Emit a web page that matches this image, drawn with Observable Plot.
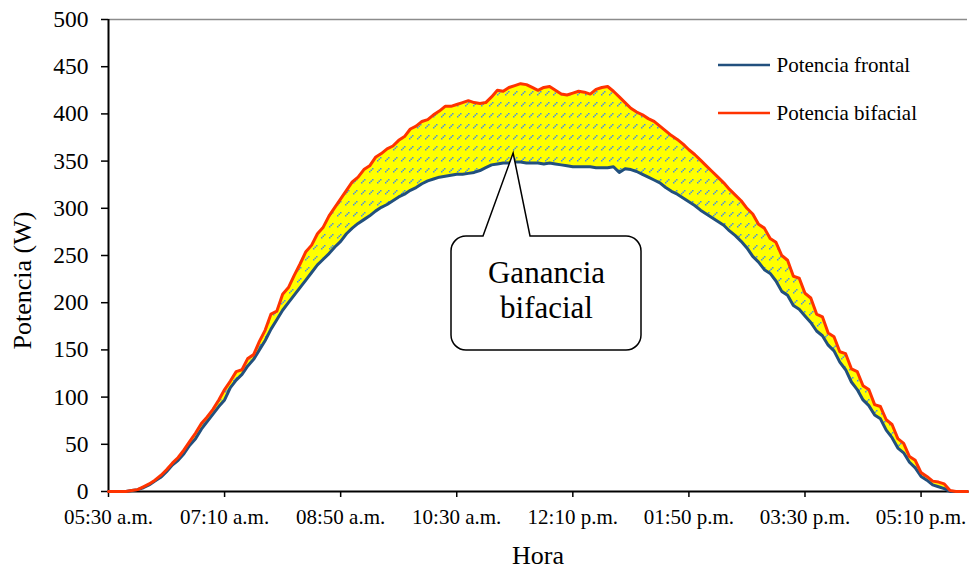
<!DOCTYPE html>
<html><head><meta charset="utf-8">
<script src="https://cdn.jsdelivr.net/npm/d3@7"></script>
<script src="https://cdn.jsdelivr.net/npm/@observablehq/plot@0.6"></script>
<style>
body{margin:0;background:#fff;}
#chart{position:relative;width:969px;height:569px;}
</style></head><body><div id="chart"></div>
<script>
// 5-minute samples starting at 05:30 a.m.
const stepMinutes = 5;
const frontal = [
0,0,0,0,1,2,4,7,11,15,21,28,33,40,49,56,66,74,82,90,
97,110,118,124,133,140,150,160,172,182,192,200,208,216,224,232,240,246,252,259,
265,273,279,284,288,292,297,301,304,308,312,315,319,322,326,329,331,333,334,335,
336,336,337,338,340,343,346,347,348,348,349,349,348,348,348,347,348,347,346,345,
344,344,344,344,343,343,343,344,338,342,341,339,336,333,330,327,322,318,315,311,
307,303,298,294,290,286,282,276,271,265,258,249,243,235,231,223,212,208,197,193,
186,179,170,165,155,149,137,129,116,108,97,91,81,77,65,57,46,41,31,25,
16,12,7,5,3,0,0,0,0
];
const bifacial = [
0,0,0,0,1,2,5,8,12,17,23,30,36,44,53,62,72,79,87,97,
108,117,127,129,141,145,159,171,188,191,209,216,229,241,254,261,273,280,292,301,
310,319,328,333,341,345,354,358,363,366,372,376,384,387,392,394,399,403,408,408,
410,412,414,412,411,412,418,425,424,428,430,432,431,428,425,428,429,425,421,420,
422,424,423,421,426,428,429,424,418,412,406,402,399,395,392,387,382,377,373,368,
362,357,351,345,339,333,327,320,314,308,300,294,283,279,268,264,250,245,228,226,
210,205,188,185,168,164,148,146,130,127,112,108,92,90,76,71,56,51,37,33,
20,16,11,10,8,1,0,0,0
];
const tickMinutes = [0,100,200,300,400,500,600,700];
const tickLabels = ["05:30 a.m.","07:10 a.m.","08:50 a.m.","10:30 a.m.","12:10 p.m.","01:50 p.m.","03:30 p.m.","05:10 p.m."];
const yTicks = [0,50,100,150,200,250,300,350,400,450,500];
const seriesNames = ["Potencia frontal","Potencia bifacial"];
const seriesColors = ["#22507E","#FF3300"];
const calloutText = "Ganancia\nbifacial";
const calloutPoint = {t:349, p:358};
const xTitle = "Hora";
const yTitle = "Potencia (W)";

const data = frontal.map((f,i)=>({t:i*stepMinutes, frontal:f, bifacial:bifacial[i]}));
const fmt = d => tickLabels[tickMinutes.indexOf(d)];
const font = "Liberation Serif";

const plot = Plot.plot({
  width:969, height:569,
  marginLeft:108, marginRight:2, marginTop:19, marginBottom:78,
  style:{fontFamily:font, background:"#fff", color:"#000", overflow:"visible"},
  x:{domain:[0,740]},
  y:{domain:[0,500]},
  marks:[
    Plot.areaY(data,{x:"t", y1:"frontal", y2:"bifacial", fill:"#FFFF00"}),
    Plot.areaY(data,{x:"t", y1:"frontal", y2:"bifacial", fill:"url(#hatch)"}),
    Plot.ruleY([500],{stroke:"#8c8c8c", strokeWidth:1.5}),
    Plot.axisX({ticks:tickMinutes, tickFormat:fmt, tickSize:6, tickPadding:12, fontSize:21, label:null, strokeWidth:1.5}),
    Plot.axisY({ticks:yTicks, tickSize:7, tickPadding:13, fontSize:23.5, label:null, strokeWidth:1.5}),
    Plot.ruleX([0],{stroke:"#000", strokeWidth:2}),
    Plot.ruleY([0],{stroke:"#000", strokeWidth:2}),
    Plot.line(data,{x:"t", y:"frontal", stroke:seriesColors[0], strokeWidth:3}),
    Plot.line(data,{x:"t", y:"bifacial", stroke:seriesColors[1], strokeWidth:3}),
    Plot.text([xTitle],{frameAnchor:"bottom", lineAnchor:"bottom", dy:72, fontSize:26, fill:"#000", fontFamily:font}),
    Plot.text([yTitle],{frameAnchor:"left", textAnchor:"middle", dx:-86, dy:25, rotate:-90, fontSize:26, fill:"#000", fontFamily:font}),
    Plot.text([calloutText],{frameAnchor:"top-left", textAnchor:"middle", lineAnchor:"top", dx:546-108, dy:258-19, fontSize:31, lineHeight:1.13, fill:"#000", fontFamily:font}),
    Plot.text(seriesNames,{frameAnchor:"top-left", textAnchor:"start", lineAnchor:"middle", fontSize:21, fill:"#000", fontFamily:font, className:"legend-text"})
  ]
});

const svg = d3.select(plot);
const defs = svg.insert("defs",":first-child");
const pat = defs.append("pattern").attr("id","hatch").attr("patternUnits","userSpaceOnUse")
  .attr("width",8).attr("height",11);
[[1,6],[2.5,4.5],[4,3]].forEach(([x,y])=>{
  pat.append("rect").attr("x",x).attr("y",y).attr("width",1.5).attr("height",1.5).attr("fill","#4A8FE0");
});

// legend text positions (one row per series)
svg.selectAll("g.legend-text text").attr("transform",(d,i)=>`translate(776,${65 + i*48})`);

// callout box and legend swatches, drawn beneath the text marks
const sx = plot.scale("x"), sy = plot.scale("y");
const tx = sx.apply(calloutPoint.t), ty = sy.apply(calloutPoint.p);
const L=451, R=641, T=236, B=350, r=15;
const path = `M${L+r},${T} L483,${T} L${tx},${ty} L530,${T} L${R-r},${T} A${r},${r} 0 0 1 ${R},${T+r} L${R},${B-r} A${r},${r} 0 0 1 ${R-r},${B} L${L+r},${B} A${r},${r} 0 0 1 ${L},${B-r} L${L},${T+r} A${r},${r} 0 0 1 ${L+r},${T} Z`;
const firstText = plot.querySelector('g[aria-label="text"]');
const cg = d3.create("svg:g");
cg.append("path").attr("d",path).attr("fill","#fff").attr("stroke","#000").attr("stroke-width",1.5);
seriesNames.forEach((n,i)=>{
  const y = 65 + i*48;
  cg.append("line").attr("x1",718).attr("x2",770).attr("y1",y).attr("y2",y)
    .attr("stroke",seriesColors[i]).attr("stroke-width",2.6);
});
plot.insertBefore(cg.node(), firstText);

document.getElementById("chart").appendChild(plot);
</script></body></html>
